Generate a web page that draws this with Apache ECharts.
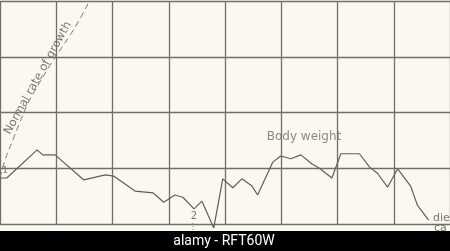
<!DOCTYPE html>
<html><head><meta charset="utf-8">
<script src="https://cdn.jsdelivr.net/npm/echarts@6/dist/echarts.min.js"></script>
<style>html,body{margin:0;padding:0;background:#fbf8f0}#c{width:450px;height:251px}</style>
</head><body><div id="c"></div>
<script>
// Body weight curve (x: time units, 10 per grid cell; y: weight units, 10 per grid cell)
const weightX = [0,1.2,6.6,7.6,9.8,14.9,18.7,20.2,24.0,27.2,29.1,31.1,32.5,34.5,35.9,38.0,39.6,41.4,43.0,44.8,45.8,48.5,49.9,51.7,53.5,55.4,56.8,59.0,60.6,63.9,65.7,67.1,68.9,70.7,73.0,74.2,76.2];
const weightY = [8.25,8.25,13.3,12.4,12.4,7.9,8.8,8.6,5.9,5.6,3.9,5.2,4.8,2.7,4.1,-0.7,8.1,6.5,8.1,6.8,5.2,11.1,12.2,11.7,12.4,10.8,10.0,8.25,12.6,12.6,10.2,9.1,6.6,9.9,6.8,3.4,0.7];
// Normal rate of growth (dashed curve)
const normalX = [0,0.9,2.3,3.55,5.0,6.6,8.9,12.8,14.6,16.0,16.9];
const normalY = [8.3,11.5,15.1,18.3,21.7,24.6,28.5,34.4,37.5,40.2,42];
const xTicks = [0,10,20,30,40,50,60,70,80];
const yTicks = [0,10,20,30,40];

const chart = echarts.init(document.getElementById('c'), null, {renderer:'canvas'});
const ink = '#5e5e5e';
chart.setOption({
  backgroundColor: '#fbf8f0',
  animation: false,
  grid: {left: 0, top: 1, width: 450, height: 223, containLabel: false},
  xAxis: {type:'value', min: xTicks[0], max: xTicks[xTicks.length-1], interval: 10,
    axisLine:{show:false}, axisTick:{show:false}, axisLabel:{show:false},
    splitLine:{show:true, lineStyle:{color:'#6f6f6f', width:1.3}}},
  yAxis: {type:'value', min: yTicks[0], max: yTicks[yTicks.length-1], interval: 10,
    axisLine:{show:false}, axisTick:{show:false}, axisLabel:{show:false},
    splitLine:{show:true, lineStyle:{color:'#6f6f6f', width:1.3}}},
  series: [
    {type:'line', data: weightX.map((x,i)=>[x, weightY[i]]), symbol:'none', clip:false,
     lineStyle:{color: ink, width:1.2}},
    {type:'line', data: normalX.map((x,i)=>[x, normalY[i]]), symbol:'none', smooth: 0.4, clip:false,
     lineStyle:{color:'#777', width:1, type:[6,4]}}
  ],
  graphic: [
    {type:'text', x:38, y:78, rotation: 61*Math.PI/180,
     style:{text:'Normal rate of growth', fill:'#777', font:'11.5px "DejaVu Sans"', align:'center', verticalAlign:'middle'}},
    {type:'text', x:304, y:137, style:{text:'Body weight', fill:'#8a8a8a', font:'12px "DejaVu Sans"', align:'center', verticalAlign:'middle'}},
    {type:'text', x:5, y:171, style:{text:'1', fill:'#777', font:'9px "DejaVu Sans"', align:'center', verticalAlign:'middle'}},
    {type:'text', x:194, y:216, style:{text:'2', fill:'#777', font:'10px "DejaVu Sans"', align:'center', verticalAlign:'middle'}},
    {type:'line', shape:{x1:193, y1:223, x2:193, y2:231}, style:{stroke:'#888', lineWidth:1, lineDash:[1,2]}},
    {type:'text', x:433, y:218, style:{text:'die', fill:'#777', font:'11px "DejaVu Sans"', align:'left', verticalAlign:'middle'}},
    {type:'text', x:434, y:228, style:{text:'ca', fill:'#777', font:'11px "DejaVu Sans"', align:'left', verticalAlign:'middle'}},
    {type:'rect', shape:{x:0, y:231, width:450, height:20}, style:{fill:'#000'}, z:100},
    {type:'text', x:224, y:241, z:101, style:{text:'alamy - RFT60W', fill:'#fff', font:'14px Roboto', align:'center', verticalAlign:'middle'}}
  ]
});
</script></body></html>
